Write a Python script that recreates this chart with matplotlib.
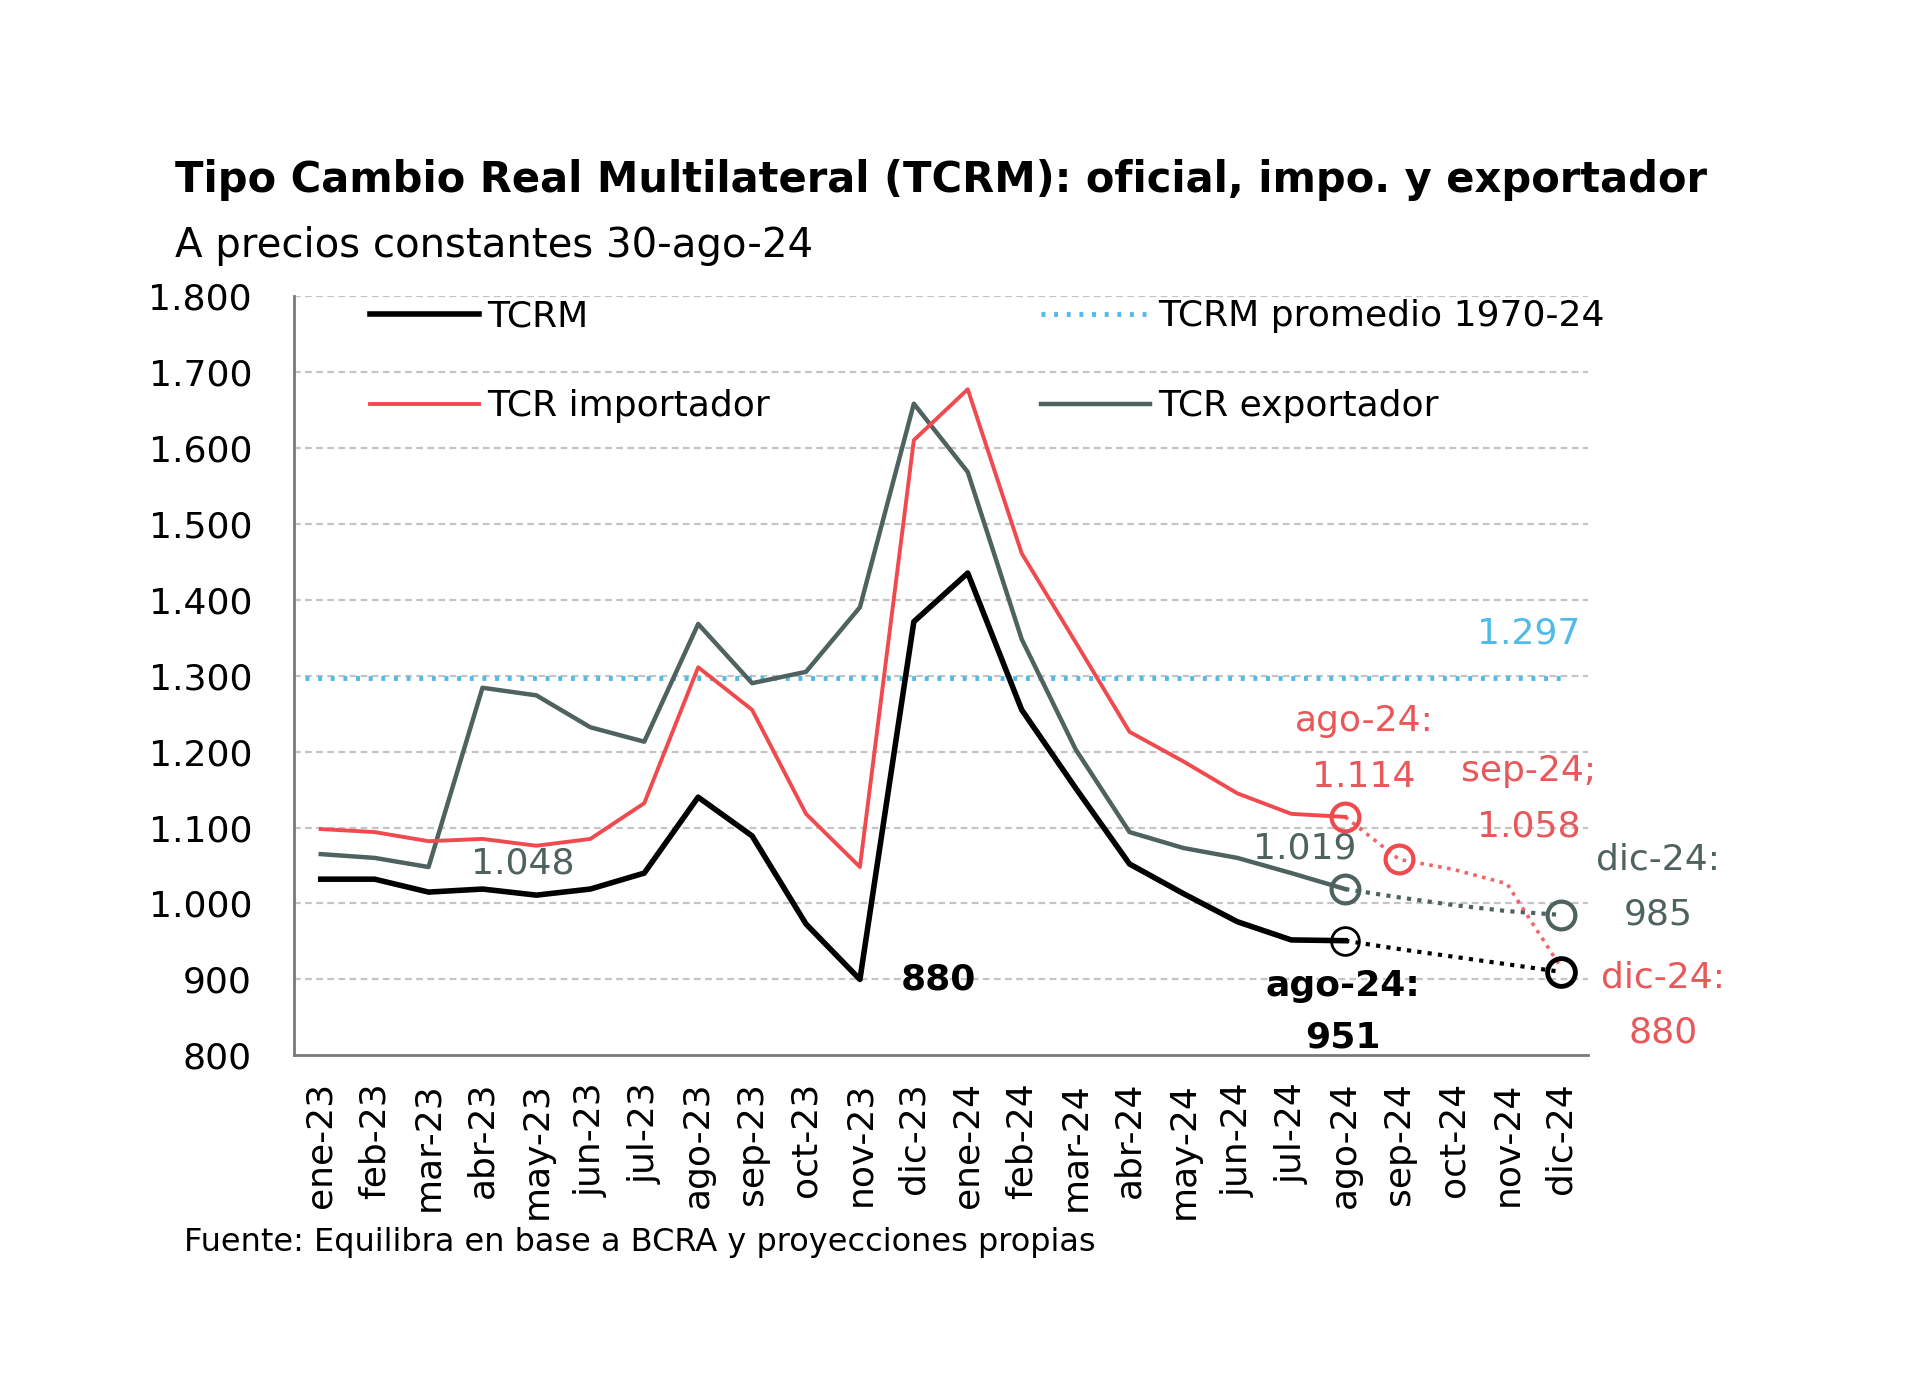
# Tipo Cambio Real Multilateral chart
import matplotlib
matplotlib.use("Agg")
import matplotlib.pyplot as plt

plt.rcParams['font.family'] = ['DejaVu Sans']

# Data
meses = ['ene-23', 'feb-23', 'mar-23', 'abr-23', 'may-23', 'jun-23', 'jul-23',
         'ago-23', 'sep-23', 'oct-23', 'nov-23', 'dic-23', 'ene-24', 'feb-24',
         'mar-24', 'abr-24', 'may-24', 'jun-24', 'jul-24', 'ago-24', 'sep-24',
         'oct-24', 'nov-24', 'dic-24']

tcrm = [1032, 1032, 1015, 1019, 1011, 1019, 1040, 1140, 1089, 973, 900, 1371,
        1435, 1255, 1152, 1052, 1013, 976, 952, 951]
tcr_impo = [1098, 1094, 1082, 1085, 1076, 1085, 1132, 1311, 1255, 1118, 1048,
            1610, 1677, 1461, 1344, 1226, 1187, 1145, 1118, 1114]
tcr_expo = [1065, 1060, 1048, 1284, 1274, 1232, 1213, 1368, 1290, 1305, 1390,
            1658, 1568, 1348, 1203, 1094, 1073, 1060, 1040, 1019]

# projections ago-24 .. dic-24
proy_tcrm = [951, 940, 930, 920, 910]
proy_impo = [1114, 1058, 1045, 1026, 916]
proy_expo = [1019, 1008, 998, 990, 985]

promedio = 1297

y_ticks = [800, 900, 1000, 1100, 1200, 1300, 1400, 1500, 1600, 1700, 1800]
y_labels = ['800', '900', '1.000', '1.100', '1.200', '1.300', '1.400',
            '1.500', '1.600', '1.700', '1.800']

c_black = '#000000'
c_red = '#f04a4f'
c_gray = '#4e625f'
c_blue = '#4fbbe6'
c_red_txt = '#e8585b'

fig = plt.figure(figsize=(19.2, 13.76), dpi=100)
ax = fig.add_axes([0.153, 0.233, 0.674, 0.552])

x = list(range(len(meses)))
n = len(tcrm)
xp = x[n - 1:]

# grid
for v in y_ticks[1:]:
    ax.axhline(v, color='#c4c4c4', lw=1.6, ls=(0, (3, 2)), zorder=0)

# average line
lp, = ax.plot([-0.3, 23], [promedio, promedio], color=c_blue, lw=3.5,
              ls=(0, (0.8, 1.8)), label='TCRM promedio 1970-24', zorder=1)

l1, = ax.plot(x[:n], tcrm, color=c_black, lw=4, label='TCRM', zorder=4)
l2, = ax.plot(x[:n], tcr_impo, color=c_red, lw=2.8, label='TCR importador', zorder=3)
l3, = ax.plot(x[:n], tcr_expo, color=c_gray, lw=3.2, label='TCR exportador', zorder=2)

# projections
dot = (0, (1, 1.5))
ax.plot(xp, proy_tcrm, color=c_black, lw=3, ls=dot, zorder=4)
ax.plot(xp, proy_impo, color=c_red, lw=2.6, ls=dot, alpha=0.85, zorder=3)
ax.plot(xp, proy_expo, color=c_gray, lw=3, ls=dot, zorder=2)

# circles
ms = 20
ax.plot([xp[0]], [proy_tcrm[0]], 'o', mfc='none', mec=c_black, mew=2, ms=ms, zorder=5)
ax.plot([xp[-1]], [proy_tcrm[-1]], 'o', mfc='none', mec=c_black, mew=3.5, ms=ms, zorder=5)
ax.plot([xp[0], xp[1]], [proy_impo[0], proy_impo[1]], 'o', mfc='none', mec=c_red,
        mew=3, ms=ms, ls='none', zorder=5)
ax.plot([xp[0], xp[-1]], [proy_expo[0], proy_expo[-1]], 'o', mfc='none', mec=c_gray,
        mew=3, ms=ms, ls='none', zorder=5)

# annotations
fs = 26
ax.text(3.75, 1053, '1.048', color=c_gray, fontsize=fs, ha='center', va='center')
ax.text(11.45, 900, '880', color=c_black, fontsize=fs, fontweight='bold',
        ha='center', va='center')
ax.text(18.25, 1073, '1.019', color=c_gray, fontsize=fs, ha='center', va='center')
ax.text(19.35, 1240, 'ago-24:', color=c_red_txt, fontsize=fs, ha='center', va='center')
ax.text(19.35, 1166, '1.114', color=c_red_txt, fontsize=fs, ha='center', va='center')
ax.text(22.4, 1174, 'sep-24;', color=c_red_txt, fontsize=fs, ha='center', va='center')
ax.text(22.4, 1102, '1.058', color=c_red_txt, fontsize=fs, ha='center', va='center')
ax.text(24.8, 1058, 'dic-24:', color=c_gray, fontsize=fs, ha='center', va='center')
ax.text(24.8, 985, '985', color=c_gray, fontsize=fs, ha='center', va='center')
ax.text(24.9, 903, 'dic-24:', color=c_red_txt, fontsize=fs, ha='center', va='center')
ax.text(24.9, 830, '880', color=c_red_txt, fontsize=fs, ha='center', va='center')
ax.text(18.95, 892, 'ago-24:', color=c_black, fontsize=fs, fontweight='bold',
        ha='center', va='center')
ax.text(18.95, 823, '951', color=c_black, fontsize=fs, fontweight='bold',
        ha='center', va='center')
ax.text(22.4, 1355, '1.297', color=c_blue, fontsize=fs, ha='center', va='center')

# axes
ax.set_xlim(-0.5, 23.5)
ax.set_ylim(800, 1800)
ax.set_yticks(y_ticks)
ax.set_yticklabels(y_labels, fontsize=fs)
ax.set_xticks(x)
ax.set_xticklabels(meses, rotation=90, fontsize=fs)
ax.tick_params(axis='both', length=0)
ax.tick_params(axis='y', pad=30)
ax.tick_params(axis='x', pad=19)
for s in ['top', 'right']:
    ax.spines[s].set_visible(False)
for s in ['left', 'bottom']:
    ax.spines[s].set_color('#7a7a7a')
    ax.spines[s].set_linewidth(2)

handles = [l1, l2, lp, l3]
ax.legend(handles, [h.get_label() for h in handles], ncol=2, frameon=False,
          loc='upper left', bbox_to_anchor=(0.034, 1.038), fontsize=fs,
          handlelength=3.0, handletextpad=0.25, columnspacing=7.5,
          labelspacing=1.55)

fig.text(0.091, 0.869, 'Tipo Cambio Real Multilateral (TCRM): oficial, impo. y exportador',
         fontsize=30, fontweight='bold', va='center', ha='left')
fig.text(0.091, 0.821, 'A precios constantes 30-ago-24', fontsize=29,
         va='center', ha='left')
fig.text(0.096, 0.097, 'Fuente: Equilibra en base a BCRA y proyecciones propias',
         fontsize=23, va='center', ha='left')

fig.savefig('out.png', dpi=100, facecolor='white')
